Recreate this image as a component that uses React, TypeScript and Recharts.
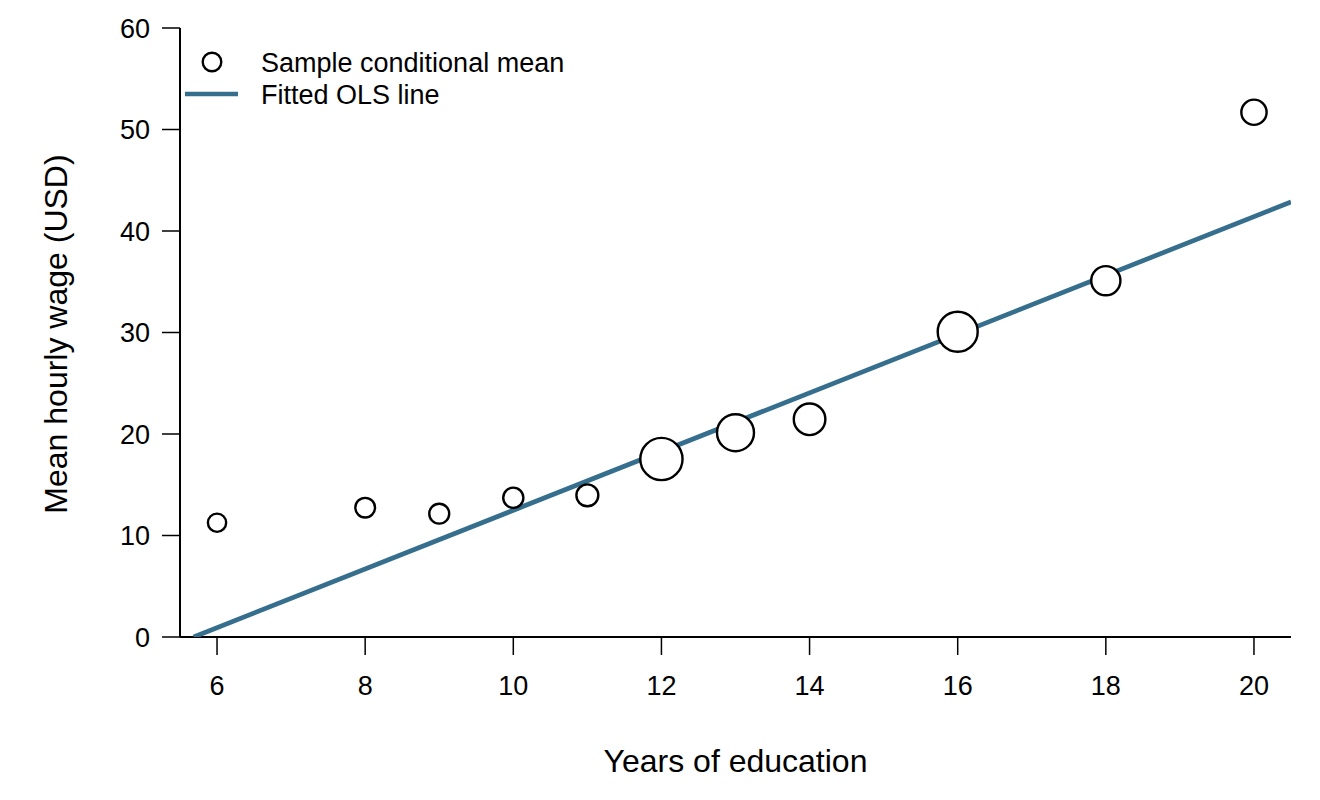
import React from 'react'
import { ScatterChart, Scatter, XAxis, YAxis, ZAxis, Legend } from 'recharts'

const education = [6, 8, 9, 10, 11, 12, 13, 14, 16, 18, 20]
const meanWage = [11.26, 12.74, 12.15, 13.72, 13.96, 17.54, 20.13, 21.45, 30.08, 35.1, 51.7]
// share of the sample in each education group, in percent (sets bubble area)
const sampleShare = [3.6, 4.2, 4.3, 4.4, 5.2, 19.3, 14.8, 10.8, 17.3, 9.2, 6.9]

const olsX = [5.685, 20.5]
const olsY = [0, 42.86]

const xTicks = [6, 8, 10, 12, 14, 16, 18, 20]
const yTicks = [0, 10, 20, 30, 40, 50, 60]

const FONT = '"Liberation Sans", Arial, Helvetica, sans-serif'
const LINE_COLOR = '#356f8d'

const means = education.map((x, i) => ({ x, y: meanWage[i], share: sampleShare[i] }))
const olsLine = olsX.map((x, i) => ({ x, y: olsY[i] }))

function LegendBox({ payload }: any) {
  const items = [...(payload || [])].sort((a: any) => (a.type === 'circle' ? -1 : 1))
  return (
    <svg width={440} height={70} style={{ display: 'block' }}>
      {items.map((item: any, i: number) => {
        const cy = 16 + i * 32
        return (
          <g key={item.value}>
            {item.type === 'circle' ? (
              <circle cx={34} cy={cy} r={9.3} fill="#fff" stroke="#000" strokeWidth={2.4} />
            ) : (
              <line x1={7} x2={60} y1={cy} y2={cy} stroke={LINE_COLOR} strokeWidth={4.7} />
            )}
            <text x={83} y={cy + 9.5} fontSize={27} fontFamily={FONT} fill="#000">
              {item.value}
            </text>
          </g>
        )
      })}
    </svg>
  )
}

export default function App() {
  return (
    <div style={{ width: 1312, height: 792, fontFamily: FONT }}>
      <ScatterChart width={1312} height={792} margin={{ top: 20, right: 29, left: 20, bottom: 23 }}>
        <XAxis
          type="number"
          dataKey="x"
          domain={[5.5, 20.5]}
          ticks={xTicks}
          height={140}
          tickSize={18}
          tickMargin={21}
          tick={{ fontSize: 27, fill: '#000', fontFamily: FONT }}
          axisLine={{ stroke: '#000', strokeWidth: 2 }}
          tickLine={{ stroke: '#000', strokeWidth: 1.5 }}
          allowDataOverflow
          label={(props: any) => {
            const vb = props.viewBox
            return (
              <text x={vb.x + vb.width / 2} y={vb.y + 135} textAnchor="middle" fontSize={32} fontFamily={FONT} fill="#000">
                Years of education
              </text>
            )
          }}
        />
        <YAxis
          type="number"
          dataKey="y"
          domain={[0, 60]}
          ticks={yTicks}
          width={152}
          tickSize={18}
          tickMargin={12}
          tick={{ fontSize: 27, fill: '#000', fontFamily: FONT }}
          axisLine={{ stroke: '#000', strokeWidth: 2 }}
          tickLine={{ stroke: '#000', strokeWidth: 1.5 }}
          allowDataOverflow
          label={(props: any) => {
            const vb = props.viewBox
            const x = vb.x + 39
            const y = vb.y + vb.height / 2 + 1.5
            return (
              <text x={x} y={y} transform={`rotate(-90, ${x}, ${y})`} textAnchor="middle" fontSize={32} fontFamily={FONT} fill="#000">
                Mean hourly wage (USD)
              </text>
            )
          }}
        />
        <ZAxis type="number" dataKey="share" domain={[0, 20]} range={[0, 1452.4]} />
        <Legend
          layout="horizontal"
          verticalAlign="middle"
          align="center"
          content={<LegendBox />}
          wrapperStyle={{ top: 38, left: 170, width: 440, height: 70 }}
        />
        <Scatter
          name="Fitted OLS line"
          data={olsLine}
          legendType="line"
          fill={LINE_COLOR}
          line={{ stroke: LINE_COLOR, strokeWidth: 4.7 }}
          shape={() => <g />}
          isAnimationActive={false}
        />
        <Scatter
          name="Sample conditional mean"
          data={means}
          legendType="circle"
          fill="#fff"
          stroke="#000"
          strokeWidth={2.4}
          isAnimationActive={false}
        />
      </ScatterChart>
    </div>
  )
}
